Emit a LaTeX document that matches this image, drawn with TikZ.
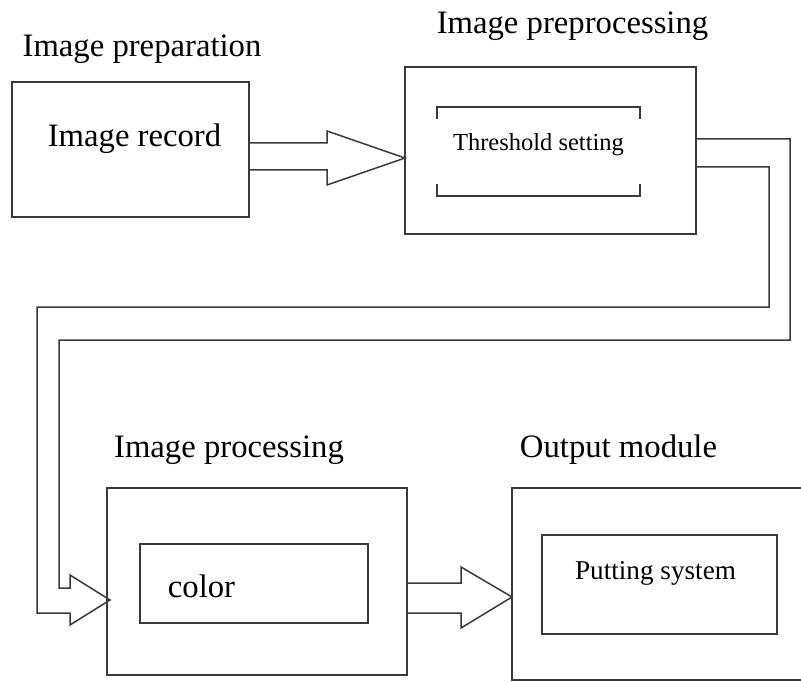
\documentclass[tikz,border=0pt]{standalone}
\usepackage{fontspec}
\setmainfont{Liberation Serif}
\definecolor{ln}{HTML}{3A3A3A}
\tikzset{
  box/.style={draw=ln, line width=1.6pt, inner sep=0pt},
  conn/.style={draw=ln, line width=1.5pt, line join=miter},
  big/.style={inner sep=0pt, anchor=base, font=\fontsize{32.7}{36}\selectfont},
  mid/.style={inner sep=0pt, anchor=base, font=\fontsize{27.2}{30}\selectfont},
  small/.style={inner sep=0pt, anchor=base, font=\fontsize{24.5}{27}\selectfont},
}
\begin{document}
\begin{tikzpicture}[x=1pt,y=-1pt]
\useasboundingbox (0,0) rectangle (801,682);
\clip (0,0) rectangle (801,682);
% boxes
\node[box, minimum width=237pt, minimum height=135pt] (b1) at (130.5,149.5) {};
\node[box, minimum width=291pt, minimum height=167pt] (b2) at (550.5,150.5) {};
\node[box, minimum width=300pt, minimum height=187pt] (b3) at (257,581.5) {};
\node[box, minimum width=228pt, minimum height=79pt] (c3) at (254,583.5) {};
\node[box, minimum width=303pt, minimum height=192pt] (b4) at (663.5,584) {};
\node[box, minimum width=235pt, minimum height=99pt] (c4) at (659.5,584.5) {};
% bracket inside box 2
\coordinate (brtl) at (437,107);
\coordinate (brtr) at (640,107);
\coordinate (brbl) at (437,196);
\coordinate (brbr) at (640,196);
\draw[conn] ([yshift=-12pt]brtl) -- (brtl) -- (brtr) -- ([yshift=-12pt]brtr);
\draw[conn] ([yshift=12pt]brbl) -- (brbl) -- (brbr) -- ([yshift=12pt]brbr);
% titles
\node[big] (t1) at (142,57) {Image preparation};
\node[big] (t2) at (572.5,34) {Image preprocessing};
\node[big] (t3) at (229,457) {Image processing};
\node[big] (t4) at (618.5,457) {Output module};
% inner texts
\node[big] (l1) at (134.5,147) {Image record};
\node[small] (l2) at (538.5,151) {Threshold setting};
\node[big] (l3) at (201.5,597) {color};
\node[mid] (l4) at (655.5,579) {Putting system};
% hollow arrow box1 -> box2
\coordinate (a1s1) at (249,143);
\coordinate (a1s2) at (249,170);
\coordinate (a1tip) at (405,158);
\draw[conn] (a1s1) -- (327,143) -- (327,131) -- (a1tip) -- (327,185) -- (327,170) -- (a1s2);
% long hollow arrow box2 -> box3
\coordinate (a2s1) at (696,139);
\coordinate (a2s2) at (696,167);
\coordinate (a2tip) at (110,600);
\draw[conn] (a2s1) -- (790,139) -- (790,340) -- (59,340) -- (59,588) -- (70,588)
  -- (70,575) -- (a2tip) -- (70,625) -- (70,613) -- (37,613) -- (37,307)
  -- (769,307) -- (769,167) -- (a2s2);
% hollow arrow box3 -> box4
\coordinate (a3s1) at (407,583);
\coordinate (a3s2) at (407,613);
\coordinate (a3tip) at (512,597);
\draw[conn] (a3s1) -- (461,583) -- (461,567) -- (a3tip) -- (461,628) -- (461,613) -- (a3s2);
\end{tikzpicture}
\end{document}
